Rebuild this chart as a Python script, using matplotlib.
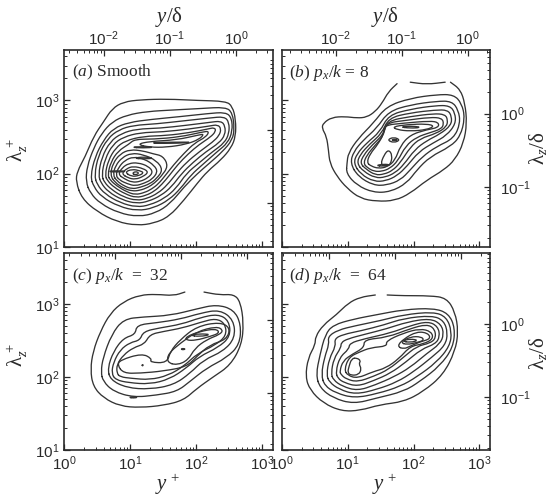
#!/usr/bin/env python3
"""Premultiplied spectra contours, four panels (y+ vs lambda_z+)."""
import numpy as np
import matplotlib
matplotlib.use("Agg")
import matplotlib.pyplot as plt
from matplotlib.patches import PathPatch
from matplotlib.path import Path
from matplotlib.ticker import FuncFormatter

plt.rcParams["font.family"] = "Liberation Sans"
plt.rcParams["axes.unicode_minus"] = False
plt.rcParams["mathtext.fontset"] = "custom"
plt.rcParams["mathtext.rm"] = "Liberation Serif"
plt.rcParams["mathtext.it"] = "Liberation Serif:italic"
plt.rcParams["mathtext.bf"] = "Liberation Serif:bold"
plt.rcParams["mathtext.sf"] = "Liberation Sans"

W, H = 552, 498
INK = "#2a2a2a"

# contours as (log10 y+, log10 lambda_z+)
PANEL_A = [
    [(.18,1.89),(.20,2.03),(.32,2.23),(.45,2.51),(.60,2.71),(.73,2.89),(.90,2.98),(1.16,3.01),(1.56,3.02),(2.02,3.00),(2.45,2.99),(2.55,2.92),(2.60,2.74),(2.60,2.51),(2.53,2.35),(2.38,2.19),(2.17,2.03),(2.02,1.87),(1.82,1.64),(1.59,1.41),(1.36,1.32),(1.11,1.29),(.80,1.34),(.50,1.48),(.27,1.66)],
    [(.33,1.89),(.35,2.10),(.45,2.35),(.57,2.55),(.73,2.71),(.95,2.80),(1.26,2.85),(1.66,2.87),(2.07,2.89),(2.45,2.91),(2.55,2.83),(2.58,2.62),(2.55,2.46),(2.40,2.30),(2.20,2.14),(2.02,2.00),(1.82,1.82),(1.61,1.59),(1.39,1.46),(1.13,1.41),(.83,1.46),(.55,1.59),(.40,1.73)],
    [(.40,1.96),(.47,2.23),(.60,2.46),(.75,2.62),(.98,2.70),(1.31,2.74),(1.77,2.78),(2.17,2.82),(2.45,2.84),(2.54,2.76),(2.55,2.58),(2.48,2.42),(2.32,2.30),(2.12,2.14),(1.92,1.98),(1.77,1.80),(1.59,1.64),(1.36,1.53),(1.11,1.49),(.83,1.55),(.57,1.68),(.45,1.82)],
    [(.46,1.98),(.52,2.25),(.66,2.48),(.83,2.60),(1.05,2.66),(1.40,2.68),(1.80,2.72),(2.20,2.76),(2.43,2.78),(2.50,2.70),(2.50,2.55),(2.43,2.42),(2.25,2.30),(2.05,2.15),(1.85,2.00),(1.70,1.80),(1.52,1.66),(1.30,1.57),(1.10,1.54),(.85,1.60),(.62,1.72),(.50,1.85)],
    [(.52,1.98),(.57,2.22),(.70,2.44),(.87,2.55),(1.10,2.61),(1.45,2.62),(1.85,2.66),(2.20,2.70),(2.38,2.72),(2.44,2.65),(2.44,2.53),(2.35,2.42),(2.15,2.30),(1.95,2.15),(1.78,2.00),(1.63,1.82),(1.47,1.70),(1.28,1.62),(1.10,1.59),(.88,1.64),(.67,1.75),(.56,1.87)],
    [(.57,1.98),(.62,2.20),(.74,2.40),(.90,2.50),(1.15,2.56),(1.50,2.57),(1.90,2.61),(2.20,2.65),(2.33,2.67),(2.38,2.61),(2.35,2.52),(2.25,2.43),(2.05,2.30),(1.85,2.15),(1.70,2.00),(1.56,1.84),(1.42,1.73),(1.26,1.66),(1.10,1.63),(.90,1.68),(.72,1.78),(.61,1.88)],
    [(.62,1.98),(.67,2.18),(.78,2.35),(.93,2.45),(1.20,2.51),(1.55,2.52),(1.90,2.56),(2.18,2.61),(2.28,2.63),(2.30,2.58),(2.22,2.50),(2.05,2.40),(1.88,2.27),(1.72,2.12),(1.60,1.98),(1.48,1.85),(1.37,1.76),(1.24,1.70),(1.09,1.67),(.93,1.72),(.76,1.81),(.66,1.90)],
    [(.66,1.98),(.71,2.16),(.82,2.31),(.98,2.40),(1.07,2.47),(1.35,2.47),(1.75,2.50),(2.10,2.57),(2.20,2.58),(2.15,2.50),(1.98,2.42),(1.82,2.28),(1.66,2.12),(1.53,1.97),(1.43,1.86),(1.33,1.79),(1.22,1.74),(1.08,1.71),(.95,1.75),(.80,1.83),(.70,1.91)],
    [(1.10,2.40),(1.30,2.44),(1.70,2.46),(2.05,2.53),(2.12,2.54),(2.05,2.47),(1.85,2.40),(1.55,2.36),(1.30,2.36)],
    [(1.25,2.42),(1.60,2.43),(2.02,2.43),(1.60,2.41)],
    [(.70,1.98),(.74,2.14),(.85,2.27),(1.00,2.33),(1.20,2.31),(1.35,2.27),(1.50,2.24),(1.58,2.10),(1.47,1.96),(1.37,1.87),(1.27,1.81),(1.15,1.77),(1.03,1.76),(.90,1.80),(.77,1.88)],
    [(.74,1.98),(.78,2.11),(.88,2.22),(1.02,2.28),(1.20,2.26),(1.40,2.18),(1.50,2.05),(1.40,1.93),(1.30,1.86),(1.15,1.81),(1.03,1.79),(.91,1.83),(.80,1.90)],
    [(.78,1.98),(.83,2.09),(.92,2.18),(1.05,2.23),(1.22,2.20),(1.37,2.11),(1.42,2.02),(1.33,1.92),(1.22,1.87),(1.08,1.83),(.96,1.86),(.84,1.91)],
    [(.82,1.99),(.88,2.08),(.98,2.14),(1.12,2.15),(1.28,2.10),(1.35,2.02),(1.27,1.94),(1.15,1.89),(1.03,1.88),(.91,1.93)],
    [(.87,2.00),(.95,2.07),(1.05,2.10),(1.20,2.07),(1.28,2.02),(1.20,1.96),(1.08,1.92),(.97,1.94)],
    [(.92,2.02),(1.03,2.06),(1.15,2.04),(1.21,2.01),(1.13,1.97),(1.02,1.96)],
    [(1.03,2.00),(1.08,2.03),(1.14,2.01),(1.09,1.98)],
    [(.65,2.03),(.80,2.04),(.97,2.03),(.80,2.02)],
    [(1.05,2.21),(1.20,2.23),(1.38,2.21),(1.20,2.20)],
    [(1.00,2.36),(1.20,2.37),(1.38,2.36),(1.20,2.35)],
]
PANEL_B = [
    [(.99,2.14),(1.01,2.28),(1.16,2.48),(1.39,2.69),(1.59,2.92),(1.95,3.03),(2.35,3.08),(2.61,3.08),(2.73,2.96),(2.78,2.76),(2.71,2.51),(2.56,2.37),(2.25,2.23),(2.05,2.05),(1.90,1.87),(1.65,1.75),(1.39,1.74),(1.14,1.84),(.98,2.00)],
    [(1.04,2.14),(1.09,2.30),(1.24,2.46),(1.44,2.62),(1.62,2.85),(1.95,2.94),(2.35,2.99),(2.58,2.99),(2.68,2.87),(2.71,2.69),(2.61,2.48),(2.35,2.37),(2.13,2.23),(1.95,2.05),(1.80,1.91),(1.59,1.84),(1.39,1.84),(1.16,1.96)],
    [(1.09,2.14),(1.14,2.27),(1.29,2.42),(1.49,2.57),(1.62,2.80),(1.95,2.88),(2.33,2.93),(2.55,2.93),(2.63,2.83),(2.64,2.68),(2.50,2.52),(2.30,2.42),(2.08,2.30),(1.90,2.10),(1.75,1.97),(1.58,1.90),(1.40,1.89),(1.20,1.99)],
    [(1.14,2.14),(1.19,2.26),(1.33,2.40),(1.52,2.55),(1.62,2.76),(1.95,2.83),(2.33,2.87),(2.52,2.87),(2.58,2.78),(2.57,2.66),(2.40,2.54),(2.20,2.45),(2.02,2.33),(1.85,2.12),(1.72,2.01),(1.57,1.95),(1.42,1.94),(1.24,2.03)],
    [(1.19,2.14),(1.24,2.25),(1.37,2.39),(1.55,2.54),(1.60,2.72),(1.95,2.78),(2.30,2.82),(2.48,2.81),(2.52,2.73),(2.50,2.64),(2.35,2.55),(2.10,2.48),(1.95,2.36),(1.80,2.15),(1.68,2.04),(1.55,1.99),(1.42,1.98),(1.28,2.06)],
    [(1.24,2.14),(1.29,2.25),(1.41,2.38),(1.55,2.52),(1.57,2.69),(1.90,2.73),(2.25,2.77),(2.43,2.76),(2.46,2.68),(2.42,2.61),(2.25,2.56),(2.05,2.50),(1.88,2.38),(1.76,2.17),(1.64,2.07),(1.52,2.03),(1.40,2.03),(1.30,2.08)],
    [(1.29,2.15),(1.34,2.27),(1.46,2.40),(1.55,2.55),(1.55,2.66),(1.85,2.69),(2.25,2.72),(2.38,2.70),(2.38,2.63),(2.20,2.60),(1.95,2.53),(1.80,2.38),(1.72,2.18),(1.60,2.09),(1.47,2.07),(1.36,2.10)],
    [(1.68,2.64),(1.90,2.67),(2.20,2.68),(2.32,2.65),(2.20,2.60),(1.95,2.58),(1.75,2.60)],
    [(1.78,2.64),(2.00,2.65),(2.12,2.63),(1.95,2.62)],
    [(1.60,2.46),(1.70,2.50),(1.80,2.46),(1.70,2.42)],
    [(1.66,2.46),(1.72,2.47),(1.76,2.46),(1.72,2.45)],
    [(1.50,2.13),(1.55,2.25),(1.62,2.33),(1.68,2.25),(1.65,2.12),(1.57,2.10)],
    [(1.42,2.11),(1.55,2.13),(1.65,2.12),(1.55,2.10)],
]
PANEL_B_OPEN = [
    [(1.75,3.23),(1.62,3.12),(1.52,2.96),(1.42,2.85),(1.29,2.77),(1.14,2.76),(.96,2.78),(.76,2.77),(.63,2.69),(.61,2.62),(.68,2.51),(.71,2.32),(.73,2.14),(.84,1.96),(.99,1.80),(1.19,1.66),(1.44,1.62),(1.72,1.63),(1.95,1.73),(2.20,1.91),(2.46,2.05),(2.63,2.19),(2.76,2.42),(2.81,2.69),(2.78,2.96),(2.71,3.15),(2.56,3.25)],
    [(1.95,3.25),(2.20,3.22),(2.48,3.25)],
]
PANEL_C = [
    [(.56,2.07),(.59,2.26),(.72,2.58),(.90,2.79),(1.20,2.82),(1.61,2.84),(2.01,2.93),(2.31,2.99),(2.57,2.92),(2.68,2.72),(2.66,2.44),(2.46,2.26),(2.16,2.12),(1.91,1.94),(1.71,1.80),(1.40,1.75),(1.05,1.72),(.75,1.80),(.59,1.94)],
    [(.66,2.12),(.75,2.35),(.90,2.53),(1.08,2.58),(1.10,2.71),(1.40,2.74),(1.76,2.79),(2.06,2.87),(2.36,2.92),(2.57,2.78),(2.59,2.53),(2.41,2.35),(2.11,2.23),(1.91,2.05),(1.66,1.89),(1.30,1.83),(.95,1.85),(.70,1.96)],
    [(.72,2.05),(.75,2.20),(.85,2.37),(1.00,2.47),(1.15,2.50),(1.20,2.62),(1.45,2.67),(1.78,2.72),(2.06,2.81),(2.33,2.86),(2.50,2.77),(2.52,2.55),(2.33,2.40),(2.05,2.28),(1.85,2.12),(1.60,1.97),(1.30,1.90),(.98,1.92),(.78,1.96)],
    [(.80,2.05),(.80,2.17),(.90,2.30),(1.05,2.40),(1.22,2.45),(1.30,2.58),(1.50,2.62),(1.80,2.67),(2.08,2.75),(2.30,2.80),(2.44,2.73),(2.46,2.56),(2.28,2.43),(2.02,2.32),(1.82,2.15),(1.58,2.02),(1.30,1.96),(1.02,1.98),(.85,2.00)],
    [(.81,2.16),(.85,2.23),(1.18,2.32),(1.33,2.25),(1.30,2.20),(1.56,2.19),(1.61,2.35),(1.76,2.51),(2.01,2.69),(2.36,2.75),(2.52,2.67),(2.46,2.51),(2.21,2.44),(2.01,2.28),(1.86,2.14),(1.51,2.08),(1.15,2.05),(.90,2.05)],
    [(1.56,2.20),(1.58,2.32),(1.76,2.46),(2.01,2.62),(2.31,2.69),(2.41,2.64),(2.36,2.58),(2.16,2.51),(1.98,2.39),(1.88,2.23),(1.71,2.16)],
    [(1.85,2.55),(2.05,2.62),(2.30,2.66),(2.36,2.60),(2.20,2.55),(2.00,2.50),(1.85,2.50)],
    [(1.90,2.57),(2.05,2.59),(2.24,2.58),(2.05,2.55)],
    [(1.77,2.38),(1.80,2.39),(1.84,2.38),(1.80,2.37)],
    [(.98,1.72),(1.05,1.73),(1.12,1.72),(1.05,1.71)],
    [(1.18,2.16),(1.19,2.17),(1.20,2.16),(1.19,2.15)],
]
PANEL_C_OPEN = [
    [(1.83,3.16),(1.66,3.11),(1.40,3.13),(1.15,3.12),(.90,3.03),(.70,2.87),(.55,2.62),(.44,2.35),(.40,2.10),(.44,1.87),(.60,1.71),(.85,1.60),(1.15,1.58),(1.51,1.61),(1.81,1.68),(2.01,1.84),(2.26,2.00),(2.52,2.16),(2.69,2.44),(2.72,2.74),(2.67,3.03),(2.57,3.13),(2.36,3.12),(2.12,3.16)],
]
PANEL_D = [
    [(.52,2.03),(.58,2.30),(.66,2.58),(.78,2.71),(1.09,2.79),(1.44,2.85),(1.85,2.92),(2.30,2.94),(2.53,2.87),(2.63,2.67),(2.60,2.40),(2.40,2.15),(2.10,1.94),(1.85,1.80),(1.44,1.71),(1.09,1.63),(.78,1.71),(.58,1.85)],
    [(.60,2.03),(.65,2.27),(.72,2.45),(.70,2.55),(.85,2.64),(1.12,2.70),(1.50,2.77),(1.85,2.85),(2.30,2.89),(2.50,2.82),(2.58,2.62),(2.55,2.42),(2.35,2.20),(2.05,2.00),(1.80,1.87),(1.45,1.77),(1.10,1.71),(.82,1.78),(.65,1.88)],
    [(.68,2.03),(.72,2.25),(.82,2.42),(.80,2.52),(.93,2.58),(1.20,2.63),(1.55,2.71),(1.85,2.80),(2.28,2.84),(2.46,2.77),(2.52,2.60),(2.48,2.43),(2.28,2.27),(2.00,2.07),(1.75,1.93),(1.45,1.83),(1.12,1.76),(.87,1.83),(.72,1.93)],
    [(.75,2.05),(.79,2.25),(.90,2.40),(.90,2.47),(1.00,2.52),(1.25,2.58),(1.60,2.66),(1.90,2.75),(2.25,2.80),(2.42,2.72),(2.46,2.58),(2.40,2.45),(2.20,2.32),(1.95,2.13),(1.70,2.00),(1.42,1.89),(1.15,1.81),(.92,1.87),(.78,1.96)],
    [(.82,2.07),(.88,2.27),(1.02,2.38),(1.03,2.46),(1.25,2.52),(1.65,2.60),(1.95,2.70),(2.22,2.76),(2.37,2.69),(2.40,2.55),(2.33,2.45),(2.12,2.38),(1.88,2.20),(1.65,2.05),(1.40,1.95),(1.15,1.87),(.95,1.92),(.85,1.98)],
    [(.88,2.08),(.93,2.22),(1.07,2.31),(1.25,2.40),(1.25,2.51),(1.60,2.54),(1.95,2.66),(2.20,2.72),(2.32,2.66),(2.34,2.53),(2.25,2.46),(2.05,2.42),(1.85,2.27),(1.62,2.10),(1.40,2.01),(1.15,1.93),(.98,1.97),(.90,2.03)],
    [(.95,2.10),(1.02,2.27),(1.18,2.34),(1.35,2.40),(1.60,2.42),(1.58,2.49),(1.85,2.60),(2.10,2.66),(2.27,2.62),(2.30,2.52),(2.15,2.45),(1.95,2.42),(1.78,2.25),(1.58,2.12),(1.38,2.07),(1.15,1.98),(1.00,2.02)],
    [(1.75,2.42),(1.85,2.52),(2.05,2.62),(2.22,2.60),(2.26,2.52),(2.10,2.48),(1.95,2.42),(1.85,2.38)],
    [(1.80,2.47),(1.95,2.55),(2.12,2.55),(2.16,2.50),(2.05,2.47),(1.90,2.44)],
    [(1.82,2.49),(1.95,2.52),(2.08,2.50),(1.95,2.47)],
    [(1.06,2.25),(1.02,2.14),(1.00,2.06),(1.05,2.02),(1.17,2.03),(1.21,2.11),(1.17,2.18),(1.20,2.22),(1.14,2.26)],
]
PANEL_D_OPEN = [
    [(1.42,3.12),(1.19,3.09),(1.01,3.01),(.83,2.85),(.63,2.71),(.51,2.55),(.51,2.44),(.40,2.26),(.36,2.00),(.43,1.82),(.63,1.64),(.91,1.53),(1.19,1.54),(1.49,1.62),(1.85,1.66),(2.15,1.80),(2.45,2.03),(2.63,2.35),(2.68,2.62),(2.63,2.89),(2.50,3.08),(2.25,3.11),(1.85,3.11),(1.60,3.12)],
]

# outer scale delta+ of each panel, from the y/delta and lambda/delta ticks
DELTA = [400, 660, 600, 530]
TITLES = [
    r"($\mathit{a}$) Smooth",
    r"($\mathit{b}$) $\mathit{p_x/k}$ = 8",
    r"($\mathit{c}$) $\mathit{p_x/k}$  =  32",
    r"($\mathit{d}$) $\mathit{p_x/k}$  =  64",
]
XMAX, YMIN, YMAX = 1445, 10, 4900


def decade_label(v, pos=None):
    return rf"$\mathsf{{10^{{{int(round(np.log10(v)))}}}}}$"


def contour_patch(points, closed=True):
    # quadratic curves through the segment midpoints, drawn by the path itself
    pts = np.array(points)
    if closed:
        mids = (pts + np.roll(pts, -1, axis=0)) / 2
        verts = [mids[-1]]
        codes = [Path.MOVETO]
        for p, m in zip(pts, mids):
            verts += [p, m]
            codes += [Path.CURVE3, Path.CURVE3]
    else:
        mids = (pts[:-1] + pts[1:]) / 2
        verts = [pts[0], mids[0]]
        codes = [Path.MOVETO, Path.LINETO]
        for p, m in zip(pts[1:-1], mids[1:]):
            verts += [p, m]
            codes += [Path.CURVE3, Path.CURVE3]
        verts.append(pts[-1])
        codes.append(Path.LINETO)
    path = Path(10 ** np.array(verts), codes)
    return PathPatch(path, fill=False, edgecolor="#333333", linewidth=0.95,
                     joinstyle="round", capstyle="round")


def make_panel(fig, box, closed, opened, delta, title, left, bottom):
    x0, y0, x1, y1 = box
    ax = fig.add_axes([x0 / W, 1 - y1 / H, (x1 - x0) / W, (y1 - y0) / H])
    ax.set_xscale("log")
    ax.set_yscale("log")
    ax.set_xlim(1, XMAX)
    ax.set_ylim(YMIN, YMAX)
    for c in closed:
        ax.add_patch(contour_patch(c))
    for c in opened:
        ax.add_patch(contour_patch(c, closed=False))

    ax.xaxis.set_major_formatter(FuncFormatter(decade_label))
    ax.yaxis.set_major_formatter(FuncFormatter(decade_label))
    ax.tick_params(which="major", direction="in", length=4.5, width=0.9,
                   labelsize=11, color=INK, labelcolor=INK, pad=3,
                   labelleft=left, labelbottom=bottom)
    ax.tick_params(which="minor", direction="in", length=2.2, width=0.7,
                   color=INK, labelleft=False, labelbottom=False)
    for s in ax.spines.values():
        s.set_linewidth(1.2)
        s.set_color(INK)

    top = ax.secondary_xaxis("top", functions=(lambda v: v / delta, lambda v: v * delta))
    right = ax.secondary_yaxis("right", functions=(lambda v: v / delta, lambda v: v * delta))
    top.set_xticks([0.01, 0.1, 1])
    right.set_yticks([0.1, 1])
    top.xaxis.set_major_formatter(FuncFormatter(decade_label))
    right.yaxis.set_major_formatter(FuncFormatter(decade_label))
    top.tick_params(which="major", direction="in", length=4.5, width=0.9,
                    labelsize=11, color=INK, labelcolor=INK, pad=1.5,
                    labeltop=box[1] < 100, labelbottom=False)
    right.tick_params(which="major", direction="in", length=4.5, width=0.9,
                      labelsize=11, color=INK, labelcolor=INK, pad=7,
                      labelright=box[0] > 100, labelleft=False)
    for sec in (top, right):
        sec.tick_params(which="minor", direction="in", length=2.2, width=0.7, color=INK)
        for s in sec.spines.values():
            s.set_visible(False)
    top.xaxis.set_minor_formatter(plt.NullFormatter())
    right.yaxis.set_minor_formatter(plt.NullFormatter())

    ax.text(0.037, 0.885, title, transform=ax.transAxes, family="Liberation Serif",
            fontsize=12.5, color=INK, va="center", ha="left")
    return ax


def label(fig, x, y, s, size, rotation=0):
    fig.text(x / W, 1 - y / H, s, fontsize=size, rotation=rotation, color=INK,
             ha="center", va="center", family="Liberation Serif")


def main():
    fig = plt.figure(figsize=(W / 100, H / 100), dpi=100, facecolor="white")
    boxes = [(64, 50, 272.7, 246.7), (281.7, 50, 490, 246.7),
             (64, 253.3, 272.7, 450), (281.7, 253.3, 490, 450)]
    closed = [PANEL_A, PANEL_B, PANEL_C, PANEL_D]
    opened = [[], PANEL_B_OPEN, PANEL_C_OPEN, PANEL_D_OPEN]
    for i, box in enumerate(boxes):
        make_panel(fig, box, closed[i], opened[i], DELTA[i], TITLES[i], i % 2 == 0, i >= 2)

    for x in (169, 385):
        label(fig, x, 17, r"$\mathit{y}/\mathrm{\delta}$", 15)
    for x in (168, 385):
        label(fig, x, 484, r"$\mathit{y}^{\,+}$", 15)
    for y in (150, 355):
        label(fig, 17, y, r"$\mathrm{\lambda}_{\mathit{z}}^{\,+}$", 15, rotation=90)
        label(fig, 538, y - 2, r"$\mathrm{\lambda}_{\mathit{z}}/\mathrm{\delta}$", 15, rotation=90)

    fig.savefig("out.png", dpi=100)
    plt.close(fig)


if __name__ == "__main__":
    main()
